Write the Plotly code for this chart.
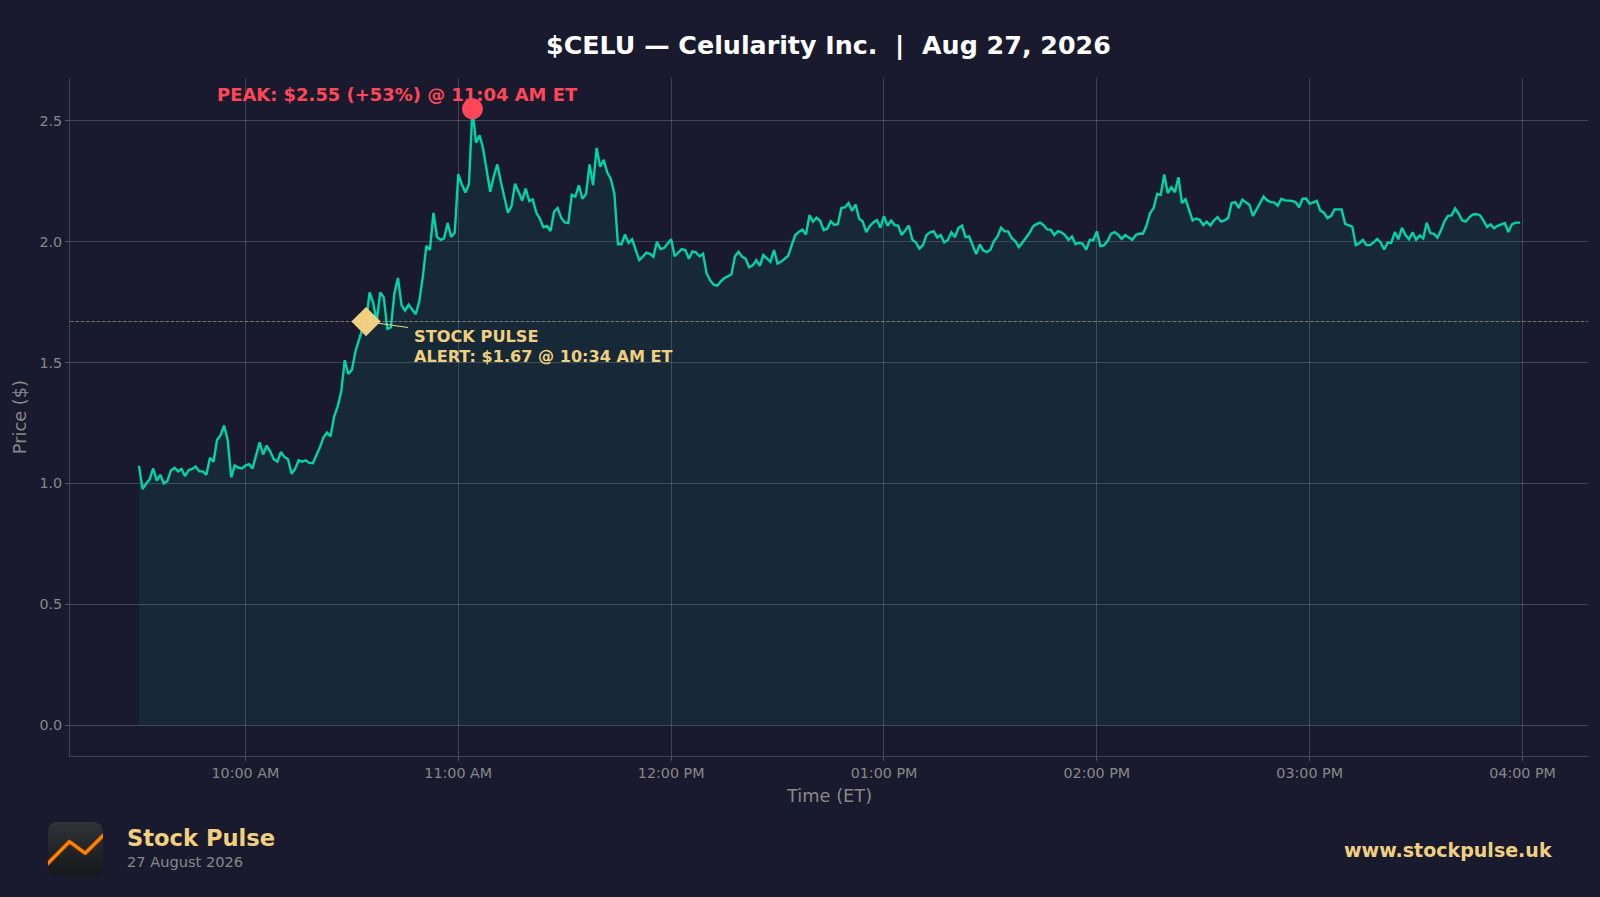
import base64
import pandas as pd
import plotly.graph_objects as go

BG = "#1a1a2e"
TEAL = "#00d4aa"
GOLD = "#f0d080"
RED = "#ff4757"
GRAY = "#888888"

prices = [
 1.073,0.977,0.999,1.017,1.062,1.012,1.036,1.000,1.010,1.054,
 1.065,1.050,1.060,1.030,1.055,1.060,1.070,1.050,1.050,1.036,
 1.106,1.090,1.180,1.200,1.240,1.180,1.025,1.075,1.066,1.062,
 1.074,1.080,1.062,1.115,1.170,1.120,1.157,1.132,1.100,1.090,
 1.130,1.110,1.100,1.040,1.060,1.096,1.090,1.096,1.085,1.084,
 1.115,1.150,1.190,1.210,1.195,1.277,1.318,1.380,1.510,1.453,
 1.470,1.545,1.594,1.640,1.670,1.790,1.748,1.670,1.790,1.770,
 1.640,1.646,1.786,1.850,1.738,1.715,1.740,1.718,1.700,1.752,
 1.855,1.983,1.966,2.120,2.020,2.008,2.014,2.078,2.020,2.037,
 2.280,2.238,2.204,2.238,2.550,2.410,2.440,2.386,2.300,2.207,
 2.270,2.320,2.248,2.186,2.120,2.147,2.240,2.207,2.170,2.220,
 2.168,2.175,2.120,2.096,2.060,2.065,2.044,2.124,2.140,2.100,
 2.080,2.077,2.194,2.187,2.234,2.178,2.197,2.320,2.234,2.388,
 2.310,2.339,2.286,2.260,2.200,1.990,1.990,2.030,1.995,2.010,
 1.970,1.924,1.938,1.955,1.950,1.938,2.000,1.970,1.974,1.990,
 2.010,1.940,1.955,1.970,1.966,1.930,1.960,1.956,1.940,1.950,
 1.870,1.840,1.822,1.818,1.836,1.850,1.857,1.866,1.940,1.959,
 1.938,1.930,1.894,1.902,1.924,1.900,1.945,1.930,1.917,1.966,
 1.910,1.917,1.930,1.942,1.986,2.028,2.041,2.050,2.030,2.110,
 2.083,2.100,2.087,2.048,2.054,2.085,2.070,2.073,2.140,2.142,
 2.160,2.128,2.154,2.096,2.084,2.040,2.065,2.080,2.090,2.058,
 2.106,2.066,2.088,2.069,2.067,2.028,2.047,2.067,2.008,1.997,
 1.972,1.986,2.028,2.039,2.044,2.018,2.028,1.997,2.007,2.039,
 2.019,2.058,2.067,2.019,2.022,1.985,1.949,1.989,1.964,1.957,
 1.967,2.003,2.022,2.058,2.043,2.043,2.015,2.003,1.978,1.996,
 2.014,2.036,2.063,2.073,2.079,2.069,2.051,2.050,2.028,2.044,
 2.039,2.028,2.008,2.022,1.990,1.996,1.992,1.967,2.008,2.006,
 2.043,1.982,1.985,2.003,2.033,2.040,2.029,2.012,2.028,2.019,
 2.008,2.028,2.034,2.033,2.067,2.118,2.140,2.198,2.194,2.278,
 2.201,2.226,2.205,2.267,2.160,2.176,2.136,2.088,2.096,2.091,
 2.069,2.083,2.067,2.088,2.102,2.083,2.088,2.098,2.160,2.164,
 2.140,2.174,2.163,2.153,2.107,2.136,2.160,2.187,2.171,2.164,
 2.163,2.149,2.178,2.171,2.171,2.169,2.164,2.143,2.178,2.179,
 2.157,2.163,2.169,2.129,2.121,2.098,2.106,2.134,2.134,2.134,
 2.074,2.069,2.063,1.986,1.994,2.008,1.986,1.986,1.997,2.012,
 1.997,1.968,1.997,1.996,2.040,2.010,2.058,2.028,2.010,2.039,
 2.008,2.026,2.014,2.079,2.036,2.033,2.017,2.047,2.085,2.107,
 2.109,2.138,2.116,2.088,2.083,2.101,2.113,2.114,2.110,2.087,
 2.061,2.072,2.056,2.066,2.072,2.077,2.040,2.072,2.079,2.079,
]
times = list(pd.date_range("2026-08-27 09:30", periods=len(prices), freq="min"))
times[-1] = pd.Timestamp("2026-08-27 15:59:20")

x_ticks = ["2026-08-27 10:00", "2026-08-27 11:00", "2026-08-27 12:00", "2026-08-27 13:00",
           "2026-08-27 14:00", "2026-08-27 15:00", "2026-08-27 16:00"]
x_labels = ["10:00 AM", "11:00 AM", "12:00 PM", "01:00 PM", "02:00 PM", "03:00 PM", "04:00 PM"]
y_ticks = [0.0, 0.5, 1.0, 1.5, 2.0, 2.5]
y_labels = ["0.0", "0.5", "1.0", "1.5", "2.0", "2.5"]

alert_time = ["2026-08-27 10:34"]
alert_price = [1.67]
peak_time = ["2026-08-27 11:04"]
peak_price = [2.55]

W, H = 1600, 897
L, R, T, B = 70, 1588.4, 77.6, 756


def px(x):
    return (x - L) / (R - L)


def py(y):
    return (B - y) / (B - T)


fig = go.Figure()
fig.add_trace(go.Scatter(x=times, y=prices, mode="lines", line=dict(color=TEAL, width=2.4),
                         fill="tozeroy", fillcolor="rgba(0,212,170,0.08)", hoverinfo="skip"))
fig.add_trace(go.Scatter(x=alert_time, y=alert_price, mode="markers",
                         marker=dict(symbol="diamond", size=22.5, color=GOLD), hoverinfo="skip"))
fig.add_trace(go.Scatter(x=peak_time, y=peak_price, mode="markers",
                         marker=dict(symbol="circle", size=21, color=RED), hoverinfo="skip"))

logo_svg = """<svg xmlns="http://www.w3.org/2000/svg" width="220" height="220" viewBox="0 0 55 55">
<defs><linearGradient id="g" x1="0" y1="0" x2="0" y2="1"><stop offset="0" stop-color="#303337"/><stop offset="1" stop-color="#15171a"/></linearGradient>
<clipPath id="c"><rect width="55" height="55" rx="10" ry="10"/></clipPath></defs>
<g clip-path="url(#c)"><rect width="55" height="55" fill="url(#g)"/>
<polyline points="-1,43 21.6,20 37.3,31.6 56,13" fill="none" stroke="#d95f00" stroke-width="4" stroke-linejoin="round"/>
<polyline points="-1,43 21.6,20 37.3,31.6 56,13" fill="none" stroke="#ff8a00" stroke-width="2.2" stroke-linejoin="round"/></g></svg>"""
logo_uri = "data:image/svg+xml;base64," + base64.b64encode(logo_svg.encode()).decode()

FONT = "DejaVu Sans"


def paper_text(x, y, text, size, color, bold=False, xanchor="left", textangle=0):
    return dict(xref="paper", yref="paper", x=px(x), y=py(y), text=f"<b>{text}</b>" if bold else text,
                showarrow=False, xanchor=xanchor, yanchor="middle", textangle=textangle,
                font=dict(family=FONT, size=size, color=color))


fig.update_layout(
    width=W, height=H, autosize=False, showlegend=False,
    paper_bgcolor=BG, plot_bgcolor=BG,
    margin=dict(l=L, r=W - R, t=T, b=H - B, pad=0),
    font=dict(family=FONT, color=GRAY),
    xaxis=dict(type="date", range=["2026-08-27 09:10:33", "2026-08-27 16:18:27"],
               tickmode="array", tickvals=x_ticks, ticktext=x_labels,
               showgrid=True, gridcolor="rgba(255,255,255,0.18)", gridwidth=1,
               showline=True, linecolor="#444455", linewidth=1,
               ticks="outside", ticklen=4, tickcolor="#555566",
               tickfont=dict(size=14.3, color=GRAY, family=FONT), zeroline=False),
    yaxis=dict(range=[-0.1275, 2.6775],
               tickmode="array", tickvals=y_ticks, ticktext=y_labels,
               showgrid=True, gridcolor="rgba(255,255,255,0.18)", gridwidth=1,
               showline=True, linecolor="#444455", linewidth=1,
               ticks="outside", ticklen=4, tickcolor="#555566",
               tickfont=dict(size=14.3, color=GRAY, family=FONT), zeroline=False),
    annotations=[
        paper_text(829, 45, "$CELU — Celularity Inc.  |  Aug 27, 2026", 25.35, "#ffffff", bold=True, xanchor="center"),
        paper_text(215, 94, "PEAK: $2.55 (+53%) @ 11:04 AM ET", 17.95, RED, bold=True),
        paper_text(412, 336, "STOCK PULSE", 16.2, GOLD, bold=True),
        paper_text(412, 356, "ALERT: $1.67 @ 10:34 AM ET", 16.1, GOLD, bold=True),
        paper_text(829, 795.5, "Time (ET)", 17.8, GRAY, xanchor="center"),
        paper_text(19, 417, "Price ($)", 17.8, GRAY, xanchor="center", textangle=-90),
        paper_text(125, 838, "Stock Pulse", 22.6, GOLD, bold=True),
        paper_text(125, 862, "27 August 2026", 14.6, GRAY),
        paper_text(1555, 850, "www.stockpulse.uk", 19.05, GOLD, bold=True, xanchor="right"),
    ],
    shapes=[
        dict(type="line", xref="paper", yref="y", x0=0, x1=1, y0=alert_price[0], y1=alert_price[0],
             line=dict(color="rgba(240,220,180,0.45)", width=1, dash="3.7px,1.6px"), layer="above"),
        dict(type="line", xsizemode="pixel", ysizemode="pixel", xref="x", yref="y",
             xanchor=alert_time[0], yanchor=alert_price[0], x0=0, x1=42, y0=0, y1=-6,
             line=dict(color=GOLD, width=1.2), layer="above"),
    ],
    images=[dict(source=logo_uri, xref="paper", yref="paper", x=px(47.7), y=py(821.7),
                 sizex=55.3 / (R - L), sizey=55 / (B - T), xanchor="left", yanchor="top",
                 sizing="stretch", layer="above")],
)

fig.write_html("out.html", include_plotlyjs=True, config={"displayModeBar": False},
               post_script="document.body.style.margin='0';document.body.style.background='%s';document.body.style.overflow='hidden';" % BG)
